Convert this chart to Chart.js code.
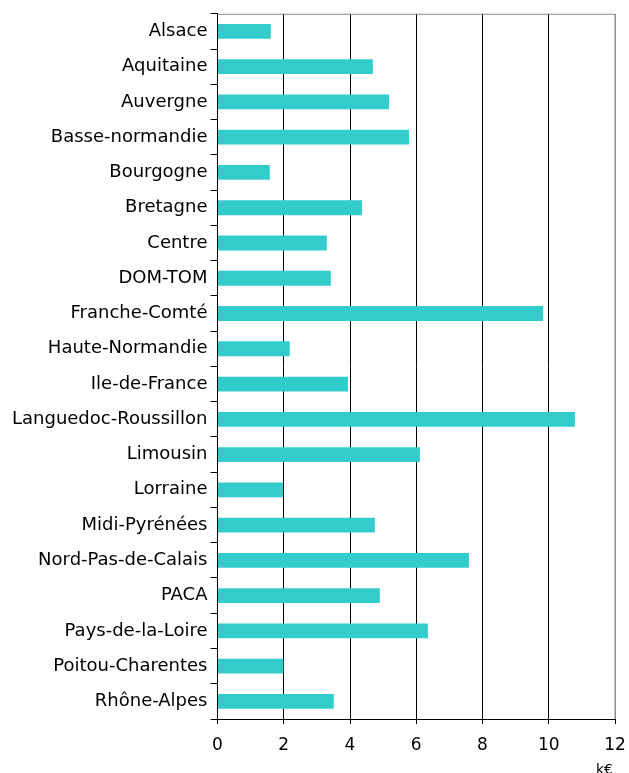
<!DOCTYPE html>
<html>
<head>
<meta charset="utf-8">
<script src="https://cdn.jsdelivr.net/npm/chart.js@4/dist/chart.umd.min.js"></script>
<style>
    html, body { margin: 0; padding: 0; background: #fff; }
    #wrap { width: 629px; height: 773px; }
</style>
</head>
<body>
<div id="wrap"><canvas id="regions-chart" width="629" height="773"></canvas></div>
<script>
'use strict';

// regions, top to bottom
const regions = [
    'Alsace', 'Aquitaine', 'Auvergne', 'Basse-normandie', 'Bourgogne',
    'Bretagne', 'Centre', 'DOM-TOM', 'Franche-Comté', 'Haute-Normandie',
    'Ile-de-France', 'Languedoc-Roussillon', 'Limousin', 'Lorraine',
    'Midi-Pyrénées', 'Nord-Pas-de-Calais', 'PACA', 'Pays-de-la-Loire',
    'Poitou-Charentes', 'Rhône-Alpes'];

// amounts in k€
const amounts = [
    1.61, 4.69, 5.18, 5.78, 1.58,
    4.36, 3.30, 3.42, 9.83, 2.18,
    3.94, 10.79, 6.11, 1.98,
    4.75, 7.59, 4.90, 6.35,
    1.99, 3.51];

const xTicks = [0, 2, 4, 6, 8, 10, 12];
const unitLabel = 'k€';

const fontFamily = '"DejaVu Sans", Verdana, sans-serif';

// grey frame on top / right + unit label under the axis
const framePlugin = {
    id: 'frame',
    afterDraw: function (chart) {
        let ctx = chart.ctx;
        let area = chart.chartArea;
        ctx.save();
        ctx.strokeStyle = '#8c8c8c';
        ctx.lineWidth = 1;
        ctx.beginPath();
        ctx.moveTo(area.left, area.top + 0.5);
        ctx.lineTo(area.right, area.top + 0.5);
        ctx.lineTo(area.right, area.bottom);
        ctx.stroke();
        ctx.fillStyle = '#000';
        ctx.font = '14px ' + fontFamily;
        ctx.textAlign = 'right';
        ctx.textBaseline = 'middle';
        ctx.fillText(unitLabel, area.right - 2, chart.height - 3);
        ctx.restore();
    },
};

let ctx = document.getElementById('regions-chart').getContext('2d');

window.regionsChart = new Chart(ctx, {
    type: 'bar',
    data: {
        labels: regions,
        datasets: [
            {
                data: amounts,
                backgroundColor: '#33cccc',
                borderWidth: 0,
                categoryPercentage: 1,
                barPercentage: 0.42,
            }],
    },
    options: {
        indexAxis: 'y',
        responsive: false,
        animation: false,
        layout: {
            padding: { top: 10, right: 14, left: 0, bottom: 0 },
        },
        plugins: {
            legend: { display: false },
            tooltip: { enabled: false },
        },
        scales: {
            x: {
                min: 0,
                max: 12,
                afterBuildTicks: function (scale) {
                    scale.ticks = xTicks.map(function (v) {
                        return { value: v };
                    });
                },
                afterFit: function (scale) {
                    scale.height = 54;
                    scale.paddingLeft = 0;
                    scale.paddingRight = 0;
                },
                grid: {
                    color: function (c) {
                        return c.tick && c.tick.value === 12 ? '#8c8c8c' : '#000';
                    },
                    tickColor: '#000',
                    tickLength: 5,
                    lineWidth: 1,
                },
                border: { color: '#000', width: 1 },
                ticks: {
                    color: '#000',
                    padding: 11,
                    font: { family: fontFamily, size: 17 },
                    maxRotation: 0,
                },
            },
            y: {
                afterFit: function (scale) {
                    scale.width = 217.5;
                },
                grid: {
                    offset: true,
                    drawOnChartArea: false,
                    tickColor: '#000',
                    tickLength: 7,
                },
                border: { color: '#000', width: 1 },
                ticks: {
                    color: '#000',
                    padding: 3,
                    autoSkip: false,
                    font: { family: fontFamily, size: 18 },
                },
            },
        },
    },
    plugins: [framePlugin],
});
</script>
</body>
</html>
